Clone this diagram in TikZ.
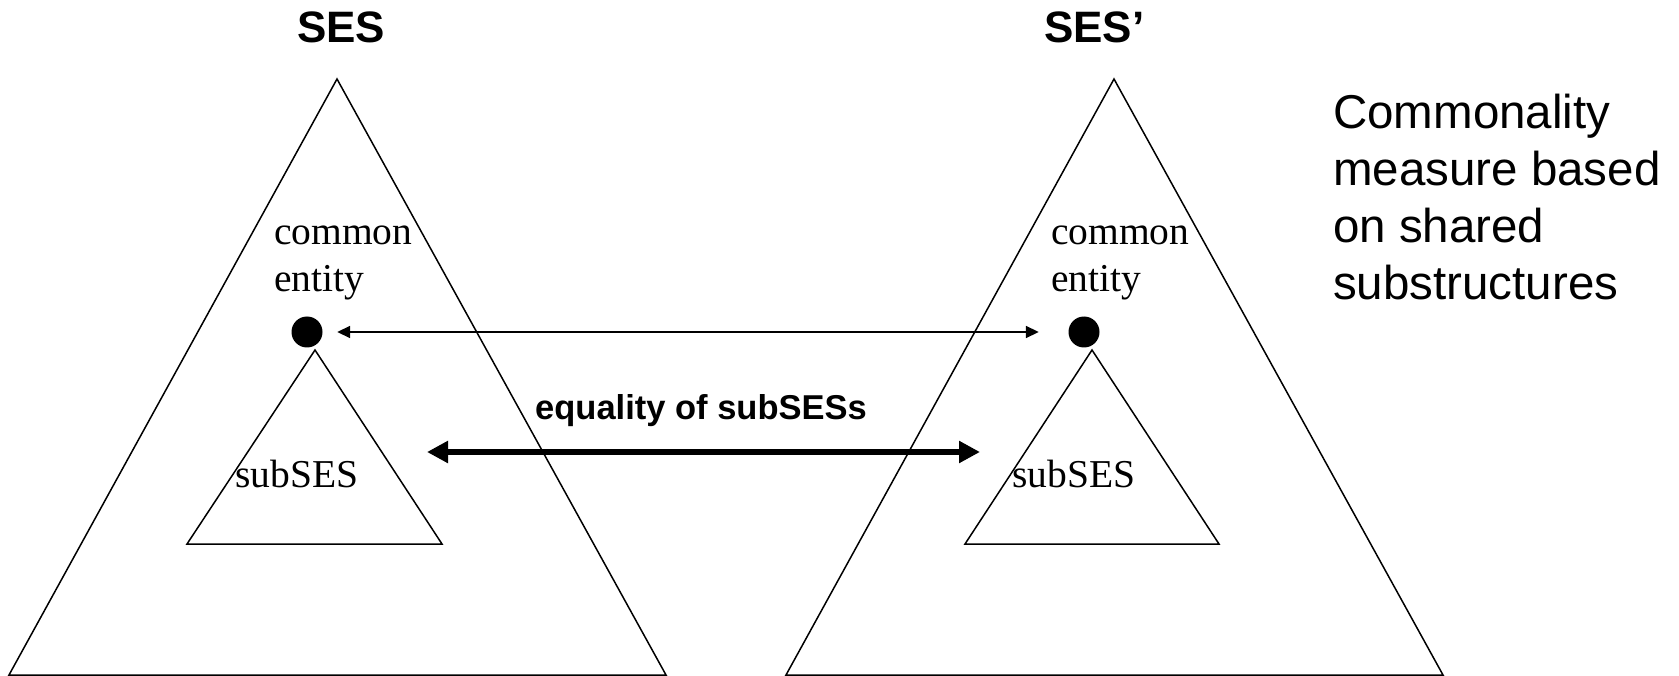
\documentclass[tikz,border=0pt]{standalone}
\usepackage{fontspec}
\setmainfont{Liberation Serif}
\newfontfamily\arialfont{Liberation Sans}
\usetikzlibrary{arrows.meta}
\begin{document}
\begin{tikzpicture}[x=1pt,y=-1pt,
  tri/.style={draw, line width=1.5pt, line join=miter},
  entdot/.style={circle, fill=black, draw=none, inner sep=0pt, minimum size=31pt},
  seriflbl/.style={inner sep=0pt, anchor=base west, align=left,
    font=\fontsize{39.5}{46.7}\selectfont},
  title/.style={inner sep=0pt, anchor=base west,
    font=\arialfont\bfseries\fontsize{44}{50}\selectfont},
  link/.style={line width=1.7pt, {Triangle[length=13pt,width=12pt]}-{Triangle[length=13pt,width=12pt]}},
  equal/.style={line width=5.7pt, {Triangle[length=21pt,width=21pt]}-{Triangle[length=21pt,width=21pt]}}
]
\useasboundingbox (0,0) rectangle (1679,676);

% titles
\node[title] (tL) at (297,43) {SES};
\node[title] (tR) at (1044,43) {SES’};

% outer structures
\draw[tri] (337,79) -- (666,675) -- (9,675) -- cycle;
\draw[tri] (1114,79) -- (1443,675) -- (786,675) -- cycle;

% inner sub-structures
\draw[tri] (315,350) -- (442,544) -- (187,544) -- cycle;
\draw[tri] (1092,350) -- (1219,544) -- (965,544) -- cycle;

% common entities
\node[entdot] (dL) at (307,332) {};
\node[entdot] (dR) at (1084,332) {};

% two-line labels: the base anchor sits on the last line
\node[seriflbl] (ceL) at (274,291.7) {common\\entity};
\node[seriflbl] (ceR) at (1051,291.7) {common\\entity};

\node[seriflbl] (sL) at (235,487) {subSES};
\node[seriflbl] (sR) at (1012,487) {subSES};

% correspondence of the entities
\draw[link, shorten <=14.5pt, shorten >=29.5pt] (dL) -- (dR);

% equality of the sub-structures
\coordinate (eqL) at (427,452);
\coordinate (eqR) at (980,452);
\draw[equal] (eqL) -- (eqR);
\node[inner sep=0pt, anchor=base west,
  font=\arialfont\bfseries\fontsize{34.5}{40}\selectfont] (eqlbl) at (535,419) {equality of subSESs};

% side note
\node[inner sep=0pt, anchor=base west, align=left,
  font=\arialfont\fontsize{47.5}{57.2}\selectfont] (note) at (1333,300)
  {Commonality\\measure based\\on shared\\substructures};
\end{tikzpicture}
\end{document}
